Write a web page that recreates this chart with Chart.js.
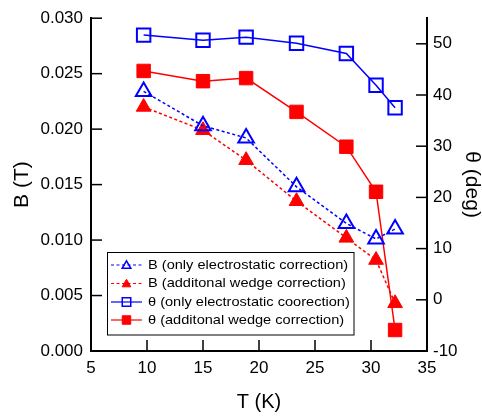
<!DOCTYPE html>
<html>
<head>
<meta charset="utf-8">
<script src="https://cdn.jsdelivr.net/npm/chart.js@4/dist/chart.umd.min.js"></script>
<style>
html,body{margin:0;padding:0;background:#fff;}
#wrap{width:482px;height:416px;position:relative;}
</style>
</head>
<body>
<div id="wrap"><canvas id="c" width="482" height="416"></canvas></div>
<script>
// ---- data ----
const temperatures = [9.7, 15.0, 18.85, 23.35, 27.8, 30.45, 32.15];
const bOnlyElectrostatic = [0.0234, 0.0203, 0.0192, 0.0148, 0.0115, 0.0101, 0.0110];
const bWedgeCorrection   = [0.0220, 0.0199, 0.0172, 0.0135, 0.0102, 0.0082, 0.0043];
const thetaOnlyElectrostatic = [51.7, 50.7, 51.3, 50.1, 48.1, 41.9, 37.5];
const thetaWedgeCorrection   = [44.7, 42.7, 43.3, 36.7, 29.9, 21.1, -5.9];
const seriesLabels = [
  'B (only electrostatic correction)',
  'B (additonal wedge correction)',
  'θ (only electrostatic coorection)',
  'θ (additonal wedge correction)'
];
const xTickValues = [5, 10, 15, 20, 25, 30, 35];
const bTickValues = [0, 0.005, 0.010, 0.015, 0.020, 0.025, 0.030];
const thetaTickValues = [-10, 0, 10, 20, 30, 40, 50];

const FONT = "'Liberation Sans', Arial, Helvetica, sans-serif";
const BLUE = '#0000ff';
const RED = '#ff0000';

function pts(xs, ys){ return xs.map((x,i)=>({x:x, y:ys[i]})); }

const inwardTicks = {
  id: 'inwardTicks',
  afterDatasetsDraw(chart){
    const {ctx, chartArea:a, scales} = chart;
    const L = 11;
    ctx.save();
    ctx.strokeStyle = '#000';
    ctx.lineWidth = 1.5;
    scales.x.ticks.forEach(t=>{
      const p = scales.x.getPixelForValue(t.value);
      ctx.beginPath(); ctx.moveTo(p, a.bottom); ctx.lineTo(p, a.bottom - L); ctx.stroke();
    });
    scales.y.ticks.forEach(t=>{
      const p = scales.y.getPixelForValue(t.value);
      ctx.beginPath(); ctx.moveTo(a.left, p); ctx.lineTo(a.left + L, p); ctx.stroke();
    });
    scales.y2.ticks.forEach(t=>{
      const p = scales.y2.getPixelForValue(t.value);
      ctx.beginPath(); ctx.moveTo(a.right, p); ctx.lineTo(a.right - L, p); ctx.stroke();
    });
    ctx.restore();
  }
};

function drawMarker(ctx, style, x, y, r, fill, color){
  ctx.beginPath();
  if (style === 'triangle'){
    ctx.moveTo(x, y - r);
    ctx.lineTo(x + r*0.866, y + r*0.5);
    ctx.lineTo(x - r*0.866, y + r*0.5);
    ctx.closePath();
  } else {
    const s = r*Math.SQRT1_2;
    ctx.rect(x - s, y - s, 2*s, 2*s);
  }
  if (fill){ ctx.fillStyle = color; ctx.fill(); ctx.lineWidth = 1; }
  else { ctx.lineWidth = 1.5; }
  ctx.strokeStyle = color;
  ctx.stroke();
}

const boxLegend = {
  id: 'boxLegend',
  afterDraw(chart){
    const ctx = chart.ctx;
    const bx = 107.5, by = 252.5, bw = 246.5, bh = 82.5;
    ctx.save();
    ctx.fillStyle = '#fff';
    ctx.fillRect(bx, by, bw, bh);
    ctx.strokeStyle = '#000';
    ctx.lineWidth = 1;
    ctx.strokeRect(bx, by, bw, bh);
    const rows = [265, 283.5, 302, 320];
    chart.data.datasets.forEach((ds, i)=>{
      const y = rows[i];
      ctx.save();
      ctx.strokeStyle = ds.borderColor;
      ctx.lineWidth = 1.2;
      ctx.setLineDash(ds.borderDash || []);
      ctx.beginPath(); ctx.moveTo(111, y); ctx.lineTo(142, y); ctx.stroke();
      ctx.restore();
      const filled = ds.pointBackgroundColor !== 'rgba(0,0,0,0)';
      drawMarker(ctx, ds.pointStyle, 126.5, y + (ds.pointStyle==='triangle'?0.8:0), ds.pointStyle==='triangle'?5:6, filled, ds.borderColor);
      ctx.save();
      ctx.fillStyle = '#000';
      ctx.font = '13.5px ' + FONT;
      ctx.textBaseline = 'middle';
      ctx.textAlign = 'left';
      ctx.translate(148, y);
      ctx.scale(1.08, 1);
      ctx.fillText(ds.label, 0, 0);
      ctx.restore();
    });
    ctx.restore();
  }
};

new Chart(document.getElementById('c'), {
  type: 'scatter',
  data: {
    datasets: [
      {
        label: seriesLabels[0], data: pts(temperatures, bOnlyElectrostatic), yAxisID: 'y',
        showLine: true, borderColor: BLUE, borderWidth: 1.5, borderDash: [3, 2.5],
        pointStyle: 'triangle', pointRadius: 9, pointBorderWidth: 2,
        pointBorderColor: BLUE, pointBackgroundColor: 'rgba(0,0,0,0)', order: 1
      },
      {
        label: seriesLabels[1], data: pts(temperatures, bWedgeCorrection), yAxisID: 'y',
        showLine: true, borderColor: RED, borderWidth: 1.5, borderDash: [3, 2.5],
        pointStyle: 'triangle', pointRadius: 8.5, pointBorderWidth: 1,
        pointBorderColor: RED, pointBackgroundColor: RED, order: 2
      },
      {
        label: seriesLabels[2], data: pts(temperatures, thetaOnlyElectrostatic), yAxisID: 'y2',
        showLine: true, borderColor: BLUE, borderWidth: 1.5,
        pointStyle: 'rect', pointRadius: 9.5, pointBorderWidth: 2,
        pointBorderColor: BLUE, pointBackgroundColor: 'rgba(0,0,0,0)', order: 3
      },
      {
        label: seriesLabels[3], data: pts(temperatures, thetaWedgeCorrection), yAxisID: 'y2',
        showLine: true, borderColor: RED, borderWidth: 1.5,
        pointStyle: 'rect', pointRadius: 9.5, pointBorderWidth: 1,
        pointBorderColor: RED, pointBackgroundColor: RED, order: 4
      }
    ]
  },
  options: {
    responsive: false,
    animation: false,
    devicePixelRatio: 1,
    layout: { padding: { top: 16, left: 0, right: 0, bottom: 0 } },
    plugins: { legend: { display: false }, tooltip: { enabled: false } },
    scales: {
      x: {
        type: 'linear', position: 'bottom', min: 5, max: 35,
        afterBuildTicks: s => { s.ticks = xTickValues.map(v=>({value:v})); },
        ticks: { font: { size: 17, family: FONT }, color: '#000', padding: 7, maxRotation: 0, autoSkip: false },
        grid: { display: false, drawTicks: false },
        border: { display: true, color: '#000', width: 2 },
        title: { display: true, text: 'T (K)', color: '#000', font: { size: 20, family: FONT }, padding: { top: 0, bottom: 1.5 } },
        afterFit: s => { s.height = 65; }
      },
      y: {
        type: 'linear', position: 'left', min: 0, max: 0.030,
        afterBuildTicks: s => { s.ticks = bTickValues.map(v=>({value:v})); },
        ticks: { font: { size: 17, family: FONT }, color: '#000', padding: 8, callback: v => Number(v).toFixed(3) },
        grid: { display: false, drawTicks: false },
        border: { display: true, color: '#000', width: 2 },
        title: { display: true, text: 'B (T)', color: '#000', font: { size: 21, family: FONT }, padding: { top: 10, bottom: 0 } },
        afterFit: s => { s.width = 91; }
      },
      y2: {
        type: 'linear', position: 'right', min: -10, max: 55,
        afterBuildTicks: s => { s.ticks = thetaTickValues.map(v=>({value:v})); },
        ticks: { font: { size: 17, family: FONT }, color: '#000', padding: 6 },
        grid: { display: false, drawTicks: false },
        border: { display: true, color: '#000', width: 2 },
        title: { display: true, text: 'θ (deg)', color: '#000', font: { size: 21, family: FONT, lineHeight: 1 }, padding: { top: 0, bottom: 0 } },
        afterFit: s => { s.width = 55; }
      }
    }
  },
  plugins: [inwardTicks, boxLegend]
});
</script>
</body>
</html>
